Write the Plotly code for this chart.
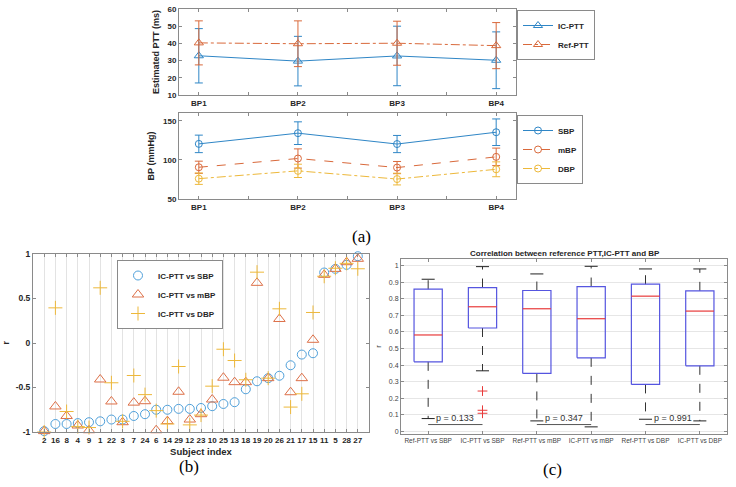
import plotly.graph_objects as go

# ---------------- data: panel (a) ----------------
bp_stages = ['BP1', 'BP2', 'BP3', 'BP4']
ic_ptt_mean = [32.8, 29.7, 32.7, 30.2]
ic_ptt_sd = [15.8, 14.4, 17.3, 16.5]
ref_ptt_mean = [40.3, 39.8, 40.1, 38.7]
ref_ptt_sd = [12.8, 13.3, 12.8, 13.4]
sbp_mean = [120.5, 134.2, 120.3, 135.4]
sbp_sd = [11.2, 14.5, 11.0, 17.0]
mbp_mean = [90.6, 101.8, 90.2, 103.9]
mbp_sd = [7.8, 12.3, 7.8, 11.2]
dbp_mean = [76.0, 86.0, 75.5, 88.0]
dbp_sd = [7.3, 8.5, 7.5, 9.5]

# ---------------- data: panel (b) ----------------
subjects = [2, 16, 8, 4, 9, 1, 22, 3, 7, 24, 6, 14, 29, 12, 23, 10, 25, 13, 18, 19,
            20, 26, 21, 17, 15, 11, 5, 28, 27]
r_sbp = [-0.99, -0.91, -0.91, -0.90, -0.89, -0.88, -0.86, -0.86, -0.82, -0.80, -0.75, -0.75,
         -0.74, -0.74, -0.73, -0.71, -0.685, -0.665, -0.52, -0.43, -0.395, -0.368, -0.25,
         -0.13, -0.115, 0.792, 0.833, 0.878, 0.975]
r_mbp = [-0.99, -0.713, -0.82, -0.927, -0.98, -0.41, -0.657, -0.89, -0.67, -0.654, -0.98,
         -0.878, -0.548, -0.86, -0.80, -0.635, -0.39, -0.44, -0.44, 0.676, -0.395, 0.27,
         -0.553, -0.395, 0.036, 0.766, 0.833, 0.908, 0.946]
r_dbp = [-1.0, 0.395, -0.77, -0.94, -0.95, 0.62, -0.447, -0.88, -0.365, -0.58, -0.76, -0.91,
         -0.264, -0.92, -0.81, -0.485, -0.07, -0.197, -0.413, 0.796, -0.395, 0.384, -0.72,
         -0.571, 0.343, 0.75, 0.84, 0.895, 0.834]

# ---------------- data: panel (c) ----------------
box_labels = ['Ref-PTT vs SBP', 'IC-PTT vs SBP', 'Ref-PTT vs mBP', 'IC-PTT vs mBP',
              'Ref-PTT vs DBP', 'IC-PTT vs DBP']
box_upper = [0.918, 0.994, 0.950, 0.996, 0.980, 0.980]
box_q3 = [0.858, 0.868, 0.850, 0.874, 0.888, 0.848]
box_median = [0.582, 0.752, 0.740, 0.680, 0.816, 0.726]
box_q1 = [0.420, 0.624, 0.350, 0.444, 0.284, 0.396]
box_lower = [0.078, 0.366, 0.064, 0.028, 0.074, 0.064]
outlier_box = [2, 2, 2]
outlier_r = [0.244, 0.128, 0.110]
p_pairs = [(1, 2), (3, 4), (5, 6)]
p_values = ['0.133', '0.347', '0.991']

# ---------------- style ----------------
W, H = 736, 487
FONT = 'Liberation Sans'
BLUE = '#2F86C6'
ORANGE = '#D9693B'
YELLOW = '#EDB83A'
AXC = '#8a8a8a'
TXT = '#262626'


def xd(x0, x1):
    return [x0 / W, x1 / W]


def yd(top, bottom):
    return [1 - bottom / H, 1 - top / H]


fig = go.Figure()

# panel a top
x_idx = [1, 2, 3, 4]
fig.add_trace(go.Scatter(
    x=x_idx, y=ic_ptt_mean, mode='lines+markers', name='IC-PTT',
    line=dict(color=BLUE, width=1),
    marker=dict(symbol='triangle-up-open', size=8, color=BLUE, line=dict(width=1)),
    error_y=dict(type='data', array=ic_ptt_sd, color=BLUE, thickness=1, width=4),
    xaxis='x', yaxis='y', legend='legend'))
fig.add_trace(go.Scatter(
    x=x_idx, y=ref_ptt_mean, mode='lines+markers', name='Ref-PTT',
    line=dict(color=ORANGE, width=1, dash='dashdot'),
    marker=dict(symbol='triangle-up-open', size=8, color=ORANGE, line=dict(width=1)),
    error_y=dict(type='data', array=ref_ptt_sd, color=ORANGE, thickness=1, width=4),
    xaxis='x', yaxis='y', legend='legend'))

# panel a bottom
for vals, sd, nm, col, dash in [(sbp_mean, sbp_sd, 'SBP', BLUE, 'solid'),
                                (mbp_mean, mbp_sd, 'mBP', ORANGE, 'dash'),
                                (dbp_mean, dbp_sd, 'DBP', YELLOW, 'dashdot')]:
    fig.add_trace(go.Scatter(
        x=x_idx, y=vals, mode='lines+markers', name=nm,
        line=dict(color=col, width=1, dash=dash),
        marker=dict(symbol='circle-open', size=7, color=col, line=dict(width=1)),
        error_y=dict(type='data', array=sd, color=col, thickness=1, width=4),
        xaxis='x2', yaxis='y2', legend='legend2'))

# panel b
pos = list(range(1, len(subjects) + 1))
fig.add_trace(go.Scatter(
    x=pos, y=r_sbp, mode='markers', name='IC-PTT vs SBP',
    marker=dict(symbol='circle-open', size=9, color='#4FA0DA', line=dict(width=1)),
    xaxis='x3', yaxis='y3', legend='legend3', cliponaxis=False))
fig.add_trace(go.Scatter(
    x=pos, y=r_mbp, mode='markers', name='IC-PTT vs mBP',
    marker=dict(symbol='triangle-up-open', size=10, color='#DD7048', line=dict(width=1)),
    xaxis='x3', yaxis='y3', legend='legend3', cliponaxis=False))
fig.add_trace(go.Scatter(
    x=pos, y=r_dbp, mode='markers', name='IC-PTT vs DBP',
    marker=dict(symbol='cross-thin-open', size=10, color=YELLOW, line=dict(width=1, color=YELLOW)),
    xaxis='x3', yaxis='y3', legend='legend3', cliponaxis=False))

# panel c - boxes drawn from the statistics
BOX_HALF = 0.26
CAP_HALF = 0.12
BOXC = '#5555E0'
for i in range(len(box_labels)):
    c = i + 1
    fig.add_trace(go.Scatter(
        x=[c, c, None, c, c], y=[box_q3[i], box_upper[i], None, box_q1[i], box_lower[i]],
        mode='lines', line=dict(color='#333333', width=1, dash='dash'),
        showlegend=False, xaxis='x4', yaxis='y4', hoverinfo='skip'))
    fig.add_trace(go.Scatter(
        x=[c - CAP_HALF, c + CAP_HALF, None, c - CAP_HALF, c + CAP_HALF],
        y=[box_upper[i], box_upper[i], None, box_lower[i], box_lower[i]],
        mode='lines', line=dict(color='#222222', width=1),
        showlegend=False, xaxis='x4', yaxis='y4', hoverinfo='skip'))
    fig.add_trace(go.Scatter(
        x=[c - BOX_HALF, c + BOX_HALF, c + BOX_HALF, c - BOX_HALF, c - BOX_HALF],
        y=[box_q1[i], box_q1[i], box_q3[i], box_q3[i], box_q1[i]],
        mode='lines', line=dict(color=BOXC, width=1.2),
        showlegend=False, xaxis='x4', yaxis='y4', hoverinfo='skip'))
    fig.add_trace(go.Scatter(
        x=[c - BOX_HALF, c + BOX_HALF], y=[box_median[i], box_median[i]],
        mode='lines', line=dict(color='#E83A3A', width=1.2),
        showlegend=False, xaxis='x4', yaxis='y4', hoverinfo='skip'))

fig.add_trace(go.Scatter(
    x=outlier_box, y=outlier_r, mode='markers',
    marker=dict(symbol='cross-thin-open', size=7, color='#E83A3A', line=dict(width=1, color='#E83A3A')),
    showlegend=False, xaxis='x4', yaxis='y4'))

P_LINE_Y = 0.042
for (a, b), pv in zip(p_pairs, p_values):
    fig.add_trace(go.Scatter(
        x=[a, b], y=[P_LINE_Y, P_LINE_Y], mode='lines',
        line=dict(color='#555555', width=1), showlegend=False,
        xaxis='x4', yaxis='y4', hoverinfo='skip'))
    fig.add_annotation(x=(a + b) / 2, y=P_LINE_Y, xref='x4', yref='y4',
                       text='p = ' + pv, showarrow=False, xanchor='center', yanchor='bottom',
                       font=dict(family=FONT, size=9, color='#333333'))

# ---------------- axes ----------------
tick_bold = dict(family=FONT, size=8, color=TXT, weight='bold')
common = dict(showline=True, linecolor=AXC, linewidth=1, mirror='ticks', ticks='inside',
              ticklen=3, tickcolor=AXC, zeroline=False, automargin=False)

half_ticks = [1, 1.5, 2, 2.5, 3, 3.5, 4]
half_text = ['BP1', '', 'BP2', '', 'BP3', '', 'BP4']

fig.update_layout(
    xaxis=dict(domain=xd(179, 516), range=[0.8, 4.2], tickvals=half_ticks, ticktext=half_text,
               tickfont=tick_bold, showgrid=False, anchor='y', **common),
    yaxis=dict(domain=yd(9, 95), range=[10, 60], dtick=10, tickfont=tick_bold, showgrid=False,
               anchor='x', title=dict(text='Estimated PTT (ms)', standoff=6,
                                      font=dict(family=FONT, size=9, color=TXT, weight='bold')),
               **common),
    xaxis2=dict(domain=xd(179, 516), range=[0.8, 4.2], tickvals=half_ticks, ticktext=half_text,
                tickfont=tick_bold, showgrid=False, anchor='y2', **common),
    yaxis2=dict(domain=yd(113, 199), range=[50, 160], tickvals=[50, 100, 150],
                tickfont=tick_bold, showgrid=False, anchor='x2',
                title=dict(text='BP (mmHg)', standoff=6,
                           font=dict(family=FONT, size=9, color=TXT, weight='bold')),
                **common),
    xaxis3=dict(domain=xd(33, 369), range=[0, len(subjects) + 1], tickvals=pos, tickangle=0,
                ticktext=[str(s) for s in subjects],
                tickfont=dict(family=FONT, size=8, color=TXT, weight='bold'),
                showgrid=True, gridcolor='#e3e3e3', gridwidth=1, anchor='y3',
                title=dict(text='Subject index', standoff=4,
                           font=dict(family=FONT, size=9.5, color=TXT, weight='bold')),
                **common),
    yaxis3=dict(domain=yd(254, 432), range=[-1, 1], tickvals=[-1, -0.5, 0, 0.5, 1],
                ticktext=['-1', '-0.5', '0', '0.5', '1'],
                tickfont=dict(family=FONT, size=8.5, color=TXT, weight='bold'),
                showgrid=False, anchor='x3',
                title=dict(text='r', standoff=10,
                           font=dict(family=FONT, size=9.5, color=TXT, weight='bold')),
                **common),
    xaxis4=dict(domain=xd(401, 727), range=[0.5, 6.5], tickvals=list(range(1, 7)), tickangle=0,
                ticktext=box_labels, tickfont=dict(family=FONT, size=6.5, color='#444444'),
                showgrid=False, anchor='y4', **common),
    yaxis4=dict(domain=yd(259, 434), range=[-0.015, 1.04],
                tickvals=[k / 10 for k in range(11)],
                ticktext=['0', '0.1', '0.2', '0.3', '0.4', '0.5', '0.6', '0.7', '0.8', '0.9', '1'],
                tickfont=dict(family=FONT, size=7, color='#444444'),
                showgrid=True, gridcolor='#e6e6e6', anchor='x4',
                title=dict(text='r', standoff=6, font=dict(family=FONT, size=8, color='#444444')),
                **common),
)

leg_font = dict(family=FONT, size=8, color=TXT, weight='bold')
leg_common = dict(bgcolor='white', bordercolor='#8a8a8a', borderwidth=1, font=leg_font,
                  xanchor='left', yanchor='top', tracegroupgap=0, itemwidth=30)
fig.update_layout(
    legend=dict(x=517 / W, y=1 - 10 / H, **leg_common),
    legend2=dict(x=517 / W, y=1 - 115 / H, **leg_common),
    legend3=dict(x=117 / W, y=1 - 260 / H, **leg_common),
)

fig.add_annotation(x=565 / W, y=1 - 253 / H, xref='paper', yref='paper',
                   xanchor='center', yanchor='middle',
                   text='Correlation between reference PTT,IC-PTT and BP', showarrow=False,
                   font=dict(family=FONT, size=8, color=TXT, weight='bold'))
for lab, px, py in [('(a)', 361, 236), ('(b)', 189, 466), ('(c)', 552, 469)]:
    fig.add_annotation(x=px / W, y=1 - py / H, xref='paper', yref='paper', text=lab,
                       xanchor='center', yanchor='middle', showarrow=False,
                       font=dict(family='Liberation Serif', size=17, color='black'))

fig.update_layout(width=W, height=H, margin=dict(l=0, r=0, t=0, b=0, autoexpand=False),
                  paper_bgcolor='white', plot_bgcolor='white', showlegend=True)

fig.write_html('out.html', config={'displayModeBar': False},
               post_script="document.body.style.margin='0';")
